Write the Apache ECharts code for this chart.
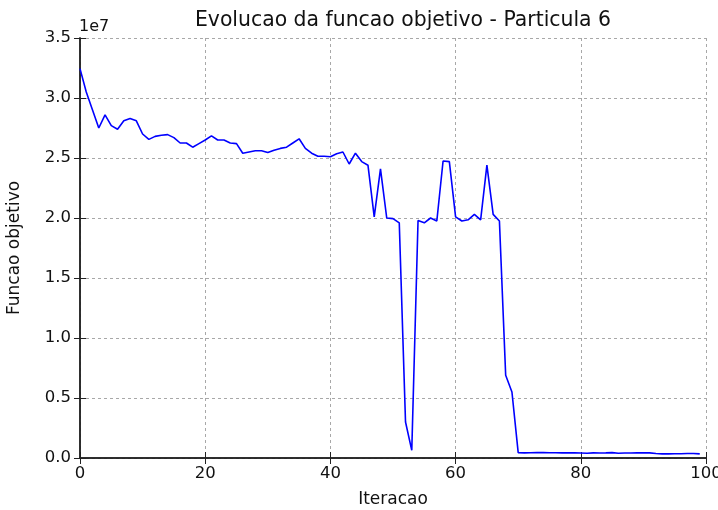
<!DOCTYPE html>
<html>
<head>
<meta charset="utf-8">
<script src="https://cdn.jsdelivr.net/npm/echarts@6/dist/echarts.min.js"></script>
<style>
  html, body { margin: 0; padding: 0; background: #fff; }
  #chart { width: 718px; height: 510px; }
</style>
</head>
<body>
<div id="chart"></div>
<script>
// Objective value per iteration, in units of 1e7
const iterations = Array.from({ length: 100 }, (_, i) => i);
const objectiveValues = [
  3.245, 3.05, 2.90, 2.75, 2.86, 2.77, 2.74, 2.81, 2.83, 2.81,
  2.70, 2.655, 2.68, 2.69, 2.695, 2.67, 2.625, 2.625, 2.59, 2.62,
  2.65, 2.685, 2.65, 2.65, 2.625, 2.62, 2.54, 2.55, 2.56, 2.56,
  2.545, 2.565, 2.58, 2.59, 2.625, 2.66, 2.58, 2.54, 2.515, 2.515,
  2.51, 2.535, 2.55, 2.45, 2.54, 2.47, 2.44, 2.01, 2.41, 2.00,
  1.995, 1.96, 0.30, 0.064, 1.98, 1.96, 2.00, 1.975, 2.475, 2.47,
  2.01, 1.975, 1.985, 2.03, 1.985, 2.44, 2.03, 1.975, 0.69, 0.55,
  0.045, 0.043, 0.044, 0.045, 0.045, 0.044, 0.044, 0.043, 0.043, 0.043,
  0.042, 0.040, 0.043, 0.042, 0.043, 0.045, 0.040, 0.042, 0.042, 0.043,
  0.044, 0.043, 0.038, 0.034, 0.034, 0.035, 0.036, 0.037, 0.038, 0.034
];
const xTicks = [0, 20, 40, 60, 80, 100];
const yTicks = [0, 0.5, 1.0, 1.5, 2.0, 2.5, 3.0, 3.5];

const font = 'DejaVu Sans';
const chart = echarts.init(document.getElementById('chart'));

const gridLine = { show: true, lineStyle: { color: '#a8a8a8', type: [3, 3], width: 1 } };
const frameLine = { show: true, lineStyle: { color: '#222', width: 1.5 } };
const inTick = { show: true, inside: true, length: 6, lineStyle: { color: '#222', width: 1 } };

chart.setOption({
  animation: false,
  backgroundColor: '#fff',
  title: {
    text: 'Evolucao da funcao objetivo - Particula 6',
    left: 398, top: 6, textAlign: 'center',
    textStyle: { fontFamily: font, fontSize: 20.4, fontWeight: 'normal', color: '#111' }
  },
  graphic: [{
    type: 'text', left: 79, top: 19,
    style: { text: '1e7', font: '16px "DejaVu Sans"', fill: '#111' }
  }],
  grid: { left: 80, right: 12, top: 38, bottom: 52, containLabel: false, outerBoundsMode: 'none' },
  xAxis: [{
    type: 'value', min: 0, max: 100, interval: 20,
    name: 'Iteracao', nameLocation: 'middle', nameGap: 33,
    nameTextStyle: { fontFamily: font, fontSize: 17, color: '#111' },
    axisLine: frameLine, axisTick: inTick, splitLine: gridLine,
    axisLabel: { fontFamily: font, fontSize: 16.5, color: '#111', margin: 7,
      formatter: v => xTicks.includes(v) ? String(v) : '' }
  }, {
    type: 'value', min: 0, max: 100, interval: 20, position: 'top',
    axisLine: frameLine, axisTick: inTick, splitLine: { show: false },
    axisLabel: { show: false }
  }],
  yAxis: [{
    type: 'value', min: 0, max: 3.5, interval: 0.5,
    name: 'Funcao objetivo', nameLocation: 'middle', nameGap: 57,
    nameTextStyle: { fontFamily: font, fontSize: 17, color: '#111' },
    axisLine: frameLine, axisTick: inTick, splitLine: gridLine,
    axisLabel: { fontFamily: font, fontSize: 16.5, color: '#111', margin: 9,
      formatter: v => yTicks.some(t => Math.abs(t - v) < 1e-9) ? v.toFixed(1) : '' }
  }, {
    type: 'value', min: 0, max: 3.5, interval: 0.5, position: 'right',
    axisLine: frameLine, axisTick: inTick, splitLine: { show: false },
    axisLabel: { show: false }
  }],
  series: [{
    type: 'line',
    data: iterations.map((x, i) => [x, objectiveValues[i]]),
    showSymbol: false,
    lineStyle: { color: '#0000ff', width: 1.6 },
    clip: true
  }]
});
</script>
</body>
</html>
